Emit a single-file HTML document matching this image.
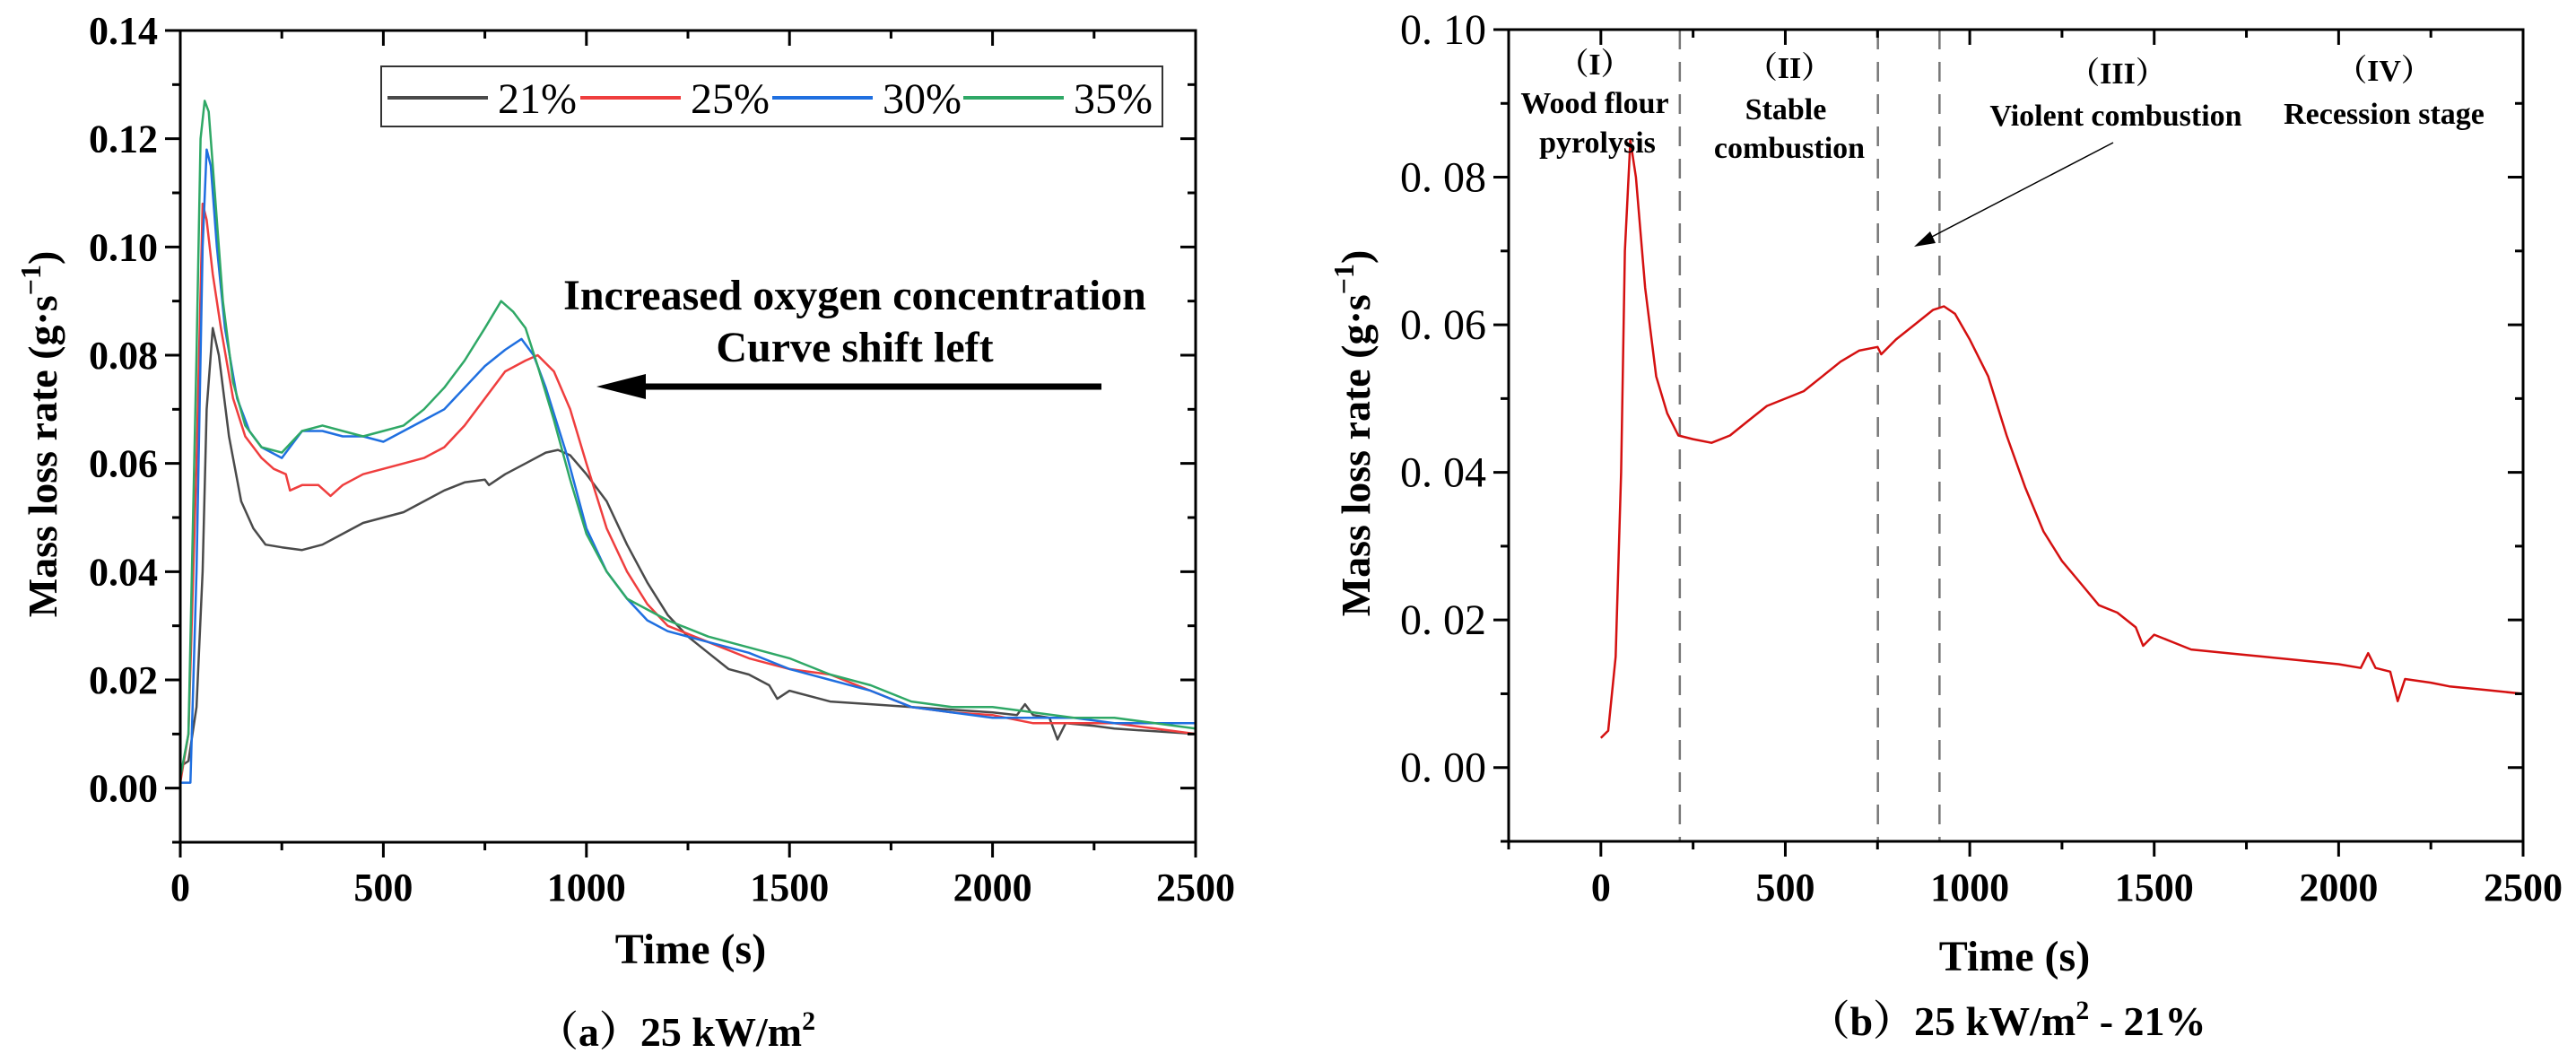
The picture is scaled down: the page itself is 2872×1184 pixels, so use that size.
<!DOCTYPE html>
<html><head><meta charset="utf-8">
<style>
html,body{margin:0;padding:0;background:#fff;}
svg{display:block;font-family:"Liberation Serif","Noto Serif CJK SC",serif;}
</style></head>
<body>
<svg id="fig" width="2872" height="1184" viewBox="0 0 2872 1184" xmlns="http://www.w3.org/2000/svg">
<g id="chartA"></g>
<g id="chartB"></g>
</svg>
<script>
// ---- data ----
const t21 = [0,20,40,55,65,80,95,120,150,180,210,250,300,350,400,450,500,550,600,650,700,750,760,800,850,900,930,960,1000,1050,1100,1150,1200,1250,1300,1350,1400,1450,1470,1500,1550,1600,1700,1800,1900,2000,2060,2080,2100,2140,2160,2180,2250,2300,2400,2500];
const v21 = [0.004,0.005,0.015,0.04,0.07,0.085,0.08,0.065,0.053,0.048,0.045,0.0445,0.044,0.045,0.047,0.049,0.050,0.051,0.053,0.055,0.0565,0.057,0.056,0.058,0.060,0.062,0.0625,0.0615,0.058,0.053,0.045,0.038,0.032,0.028,0.025,0.022,0.021,0.019,0.0165,0.018,0.017,0.016,0.0155,0.015,0.0145,0.014,0.0135,0.0155,0.0135,0.013,0.009,0.012,0.0115,0.011,0.0105,0.010];
const t25 = [0,20,40,55,65,80,100,130,160,200,230,260,270,300,340,370,400,450,500,550,600,650,700,750,800,850,880,920,960,1000,1050,1100,1150,1200,1300,1400,1500,1600,1700,1800,1900,2000,2100,2200,2300,2400,2500];
const v25 = [0.001,0.01,0.06,0.108,0.105,0.095,0.085,0.072,0.065,0.061,0.059,0.058,0.055,0.056,0.056,0.054,0.056,0.058,0.059,0.060,0.061,0.063,0.067,0.072,0.077,0.079,0.080,0.077,0.070,0.060,0.048,0.040,0.034,0.030,0.027,0.024,0.022,0.021,0.018,0.015,0.014,0.0135,0.012,0.012,0.012,0.011,0.010];
const t30 = [0,25,40,55,65,75,90,110,140,170,200,250,300,350,400,450,500,550,600,650,700,750,800,840,870,900,950,1000,1050,1100,1150,1200,1300,1400,1500,1600,1700,1800,1900,2000,2100,2200,2300,2400,2500];
const v30 = [0.001,0.001,0.04,0.1,0.118,0.115,0.1,0.085,0.072,0.066,0.063,0.061,0.066,0.066,0.065,0.065,0.064,0.066,0.068,0.070,0.074,0.078,0.081,0.083,0.080,0.074,0.062,0.048,0.040,0.035,0.031,0.029,0.027,0.025,0.022,0.020,0.018,0.015,0.014,0.013,0.013,0.013,0.012,0.012,0.012];
const t35 = [0,20,40,50,60,70,85,105,130,160,200,250,300,350,400,450,500,550,600,650,700,750,790,820,850,880,920,960,1000,1050,1100,1200,1300,1400,1500,1600,1700,1800,1900,2000,2100,2200,2300,2400,2500];
const v35 = [0.002,0.01,0.08,0.12,0.127,0.125,0.11,0.09,0.075,0.067,0.063,0.062,0.066,0.067,0.066,0.065,0.066,0.067,0.070,0.074,0.079,0.085,0.090,0.088,0.085,0.078,0.068,0.057,0.047,0.040,0.035,0.031,0.028,0.026,0.024,0.021,0.019,0.016,0.015,0.015,0.014,0.013,0.013,0.012,0.011];
const seriesNames = ["21%","25%","30%","35%"];
const seriesColors = ["#4a4a4a","#ef3e3e","#1f6fe0","#2fa866"];
const xTicksA = [0,500,1000,1500,2000,2500];
const yTicksA = [0,0.02,0.04,0.06,0.08,0.10,0.12,0.14];
const xTicksB = [0,500,1000,1500,2000,2500];
const yTicksB = [0,0.02,0.04,0.06,0.08,0.10];
const stageBounds = [214,751,918];

const NS="http://www.w3.org/2000/svg";
function mk(parent,tag,attrs,text){const e=document.createElementNS(NS,tag);for(const k in attrs)e.setAttribute(k,attrs[k]);if(text!==undefined)e.textContent=text;parent.appendChild(e);return e;}

// ---- chart A ----
const A=document.getElementById('chartA');
const ax={x0:201,x1:1333,y0:34,y1:939,tmin:0,tmax:2500,vmin:-0.01,vmax:0.14};
const xA=t=>ax.x0+(t-ax.tmin)/(ax.tmax-ax.tmin)*(ax.x1-ax.x0);
const yA=v=>ax.y1-(v-ax.vmin)/(ax.vmax-ax.vmin)*(ax.y1-ax.y0);
const allT=[t21,t25,t30,t35], allV=[v21,v25,v30,v35];
for(let s=0;s<4;s++){
  let d=allT[s].map((t,i)=>(i?'L':'M')+xA(t).toFixed(1)+','+yA(allV[s][i]).toFixed(1)).join('');
  const p=mk(A,'path',{d:d,fill:'none',stroke:seriesColors[s],'stroke-width':2.5,'stroke-linejoin':'round'});
  
  
}
const frA=mk(A,'rect',{x:ax.x0,y:ax.y0,width:ax.x1-ax.x0,height:ax.y1-ax.y0,fill:'none',stroke:'#000','stroke-width':3});


for(let t=0;t<=2500;t+=250){
  const X=xA(t), major=t%500===0;
  mk(A,'line',{x1:X,y1:ax.y1,x2:X,y2:ax.y1+(major?17:9),stroke:'#000','stroke-width':3});
  mk(A,'line',{x1:X,y1:ax.y0,x2:X,y2:ax.y0+(major?17:9),stroke:'#000','stroke-width':3});
}
for(let k=-1;k<=14;k++){
  const v=k*0.01,Y=yA(v),major=k%2===0;
  mk(A,'line',{x1:ax.x0,y1:Y,x2:ax.x0-(major?17:9),y2:Y,stroke:'#000','stroke-width':3});
  mk(A,'line',{x1:ax.x1,y1:Y,x2:ax.x1-(major?17:9),y2:Y,stroke:'#000','stroke-width':3});
}
xTicksA.forEach(t=>{const e=mk(A,'text',{x:xA(t),y:1004,'text-anchor':'middle','font-size':44,'font-weight':'bold'},String(t));
  });
yTicksA.forEach(v=>{const e=mk(A,'text',{x:176,y:yA(v)+15,'text-anchor':'end','font-size':44,'font-weight':'bold'},v.toFixed(2));
  });
let e;
e=mk(A,'text',{x:770,y:1074,'text-anchor':'middle','font-size':48,'font-weight':'bold'},'Time (s)');

e=mk(A,'text',{transform:'translate(63,484) rotate(-90)','text-anchor':'middle','font-size':46,'font-weight':'bold'});
e.innerHTML='Mass loss rate (g·s<tspan dy="-18" font-size="32">−1</tspan><tspan dy="18">)</tspan>';

e=mk(A,'text',{x:754,y:1166,'text-anchor':'middle','font-size':46,'font-weight':'bold'});
e.innerHTML='（a）25 kW/m<tspan dy="-18" font-size="30">2</tspan>';

const lg=mk(A,'g',{});

mk(lg,'rect',{x:425,y:74,width:871,height:67,fill:'#fff',stroke:'#333','stroke-width':2});
const legLX=[432,647,861,1074];
for(let s=0;s<4;s++){
  const g=mk(lg,'g',{});
  
  
  mk(g,'line',{x1:legLX[s],y1:109,x2:legLX[s]+112,y2:109,stroke:seriesColors[s],'stroke-width':4});
  mk(g,'text',{x:legLX[s]+123,y:126,'font-size':48},seriesNames[s]);
}
e=mk(A,'text',{x:953,y:345,'text-anchor':'middle','font-size':48,'font-weight':'bold'},'Increased oxygen concentration');

e=mk(A,'text',{x:953,y:403,'text-anchor':'middle','font-size':48,'font-weight':'bold'},'Curve shift left');

e=mk(A,'g',{});

mk(e,'line',{x1:1228,y1:431,x2:710,y2:431,stroke:'#000','stroke-width':7});
mk(e,'polygon',{points:'665,431 720,417 720,445',fill:'#000'});

// ---- chart B ----
const B=document.getElementById('chartB');
const bx={x0:1682,x1:2813,y0:33,y1:938,tmin:-250,tmax:2500,vmin:-0.01,vmax:0.10};
const xB=t=>bx.x0+(t-bx.tmin)/(bx.tmax-bx.tmin)*(bx.x1-bx.x0);
const yB=v=>bx.y1-(v-bx.vmin)/(bx.vmax-bx.vmin)*(bx.y1-bx.y0);
stageBounds.forEach(t=>{const l=mk(B,'line',{x1:xB(t),y1:bx.y0,x2:xB(t),y2:bx.y1,stroke:'#777','stroke-width':2.5,'stroke-dasharray':'22,14'});
  });
e=mk(B,'path',{d:t21.map((t,i)=>(i?'L':'M')+xB(t).toFixed(1)+','+yB(v21[i]).toFixed(1)).join(''),fill:'none',stroke:'#d41010','stroke-width':2.5,'stroke-linejoin':'round'});

e=mk(B,'rect',{x:bx.x0,y:bx.y0,width:bx.x1-bx.x0,height:bx.y1-bx.y0,fill:'none',stroke:'#000','stroke-width':3});

for(let t=-250;t<=2500;t+=250){
  const X=xB(t), major=t%500===0;
  mk(B,'line',{x1:X,y1:bx.y1,x2:X,y2:bx.y1+(major?17:9),stroke:'#000','stroke-width':3});
  mk(B,'line',{x1:X,y1:bx.y0,x2:X,y2:bx.y0+(major?17:9),stroke:'#000','stroke-width':3});
}
for(let k=-1;k<=10;k++){
  const Y=yB(k*0.01),major=k%2===0;
  mk(B,'line',{x1:bx.x0,y1:Y,x2:bx.x0-(major?17:9),y2:Y,stroke:'#000','stroke-width':3});
  mk(B,'line',{x1:bx.x1,y1:Y,x2:bx.x1-(major?17:9),y2:Y,stroke:'#000','stroke-width':3});
}
xTicksB.forEach(t=>{const q=mk(B,'text',{x:xB(t),y:1004,'text-anchor':'middle','font-size':44,'font-weight':'bold'},String(t));
  });
yTicksB.forEach(v=>{const q=mk(B,'text',{x:1657,y:yB(v)+16,'text-anchor':'end','font-size':48},v.toFixed(2).replace('.','. '));
  });
e=mk(B,'text',{x:2246,y:1082,'text-anchor':'middle','font-size':48,'font-weight':'bold'},'Time (s)');

e=mk(B,'text',{transform:'translate(1527,483) rotate(-90)','text-anchor':'middle','font-size':46,'font-weight':'bold'});
e.innerHTML='Mass loss rate (g·s<tspan dy="-18" font-size="32">−1</tspan><tspan dy="18">)</tspan>';

e=mk(B,'text',{x:2238,y:1154,'text-anchor':'middle','font-size':46,'font-weight':'bold'});
e.innerHTML='（b）25 kW/m<tspan dy="-18" font-size="30">2</tspan><tspan dy="18"> - 21%</tspan>';

const stageLabels=[[1778,71,'（I）'],[1778,114,'Wood flour'],[1781,158,'pyrolysis'],[1995,75,'（II）'],[1991,121,'Stable'],[1995,164,'combustion'],[2361,81,'（III）'],[2359,128,'Violent combustion'],[2658,78,'（IV）'],[2658,126,'Recession stage']];
stageLabels.forEach(s=>{const q=mk(B,'text',{x:s[0],y:s[1]+12,'text-anchor':'middle','font-size':34,'font-weight':'bold'},s[2]);
  });
e=mk(B,'g',{});

mk(e,'line',{x1:2356,y1:159,x2:2150,y2:266,stroke:'#000','stroke-width':1.5});
mk(e,'polygon',{points:'2134,275 2152,258 2158,271',fill:'#000'});
</script>
</body></html>
